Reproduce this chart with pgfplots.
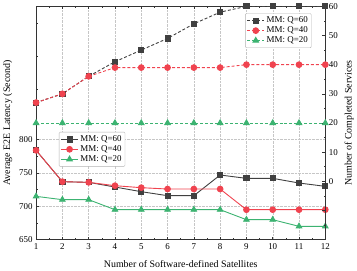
\documentclass[border=0pt]{standalone}
\usepackage{fontspec}
\setmainfont{Liberation Serif}
\usepackage{pgfplots}
\pgfplotsset{compat=1.18}
\definecolor{cblk}{HTML}{404040}
\definecolor{cred}{HTML}{F0434F}
\definecolor{cgrn}{HTML}{3CB371}
\begin{document}
\begin{tikzpicture}
\pgfplotsset{every axis/.append style={
  font=\fontsize{9}{10}\selectfont,
  /pgf/number format/assume math mode=true,
  tick align=inside, major tick length=3pt, minor tick length=1.6pt,
  scale only axis, width=290bp, height=234bp, xmin=1, xmax=12,
  axis line style={line width=0.8pt, black!80},
  tick style={black!80, line width=0.6pt},
  label style={font=\fontsize{10}{12}\selectfont},
  legend cell align=left,
  legend style={draw=gray!60, font=\fontsize{9}{10}\selectfont, inner sep=1.5pt, row sep=-1.5pt, rounded corners=1pt},
}}
\begin{axis}[
  xtick={1,...,12}, minor x tick num=1, xtick pos=both,
  ymin=650, ymax=1000, ytick={650,700,750,800},
  minor ytick={675,725,775,825,875,925,975}, ytick pos=left,
  grid=major, grid style={gray!45, densely dotted, line width=0.4pt},
  xlabel={Number of Software-defined Satellites},
  ylabel={Average E2E Latency (Second)},
  xlabel style={yshift=-4pt},
  legend style={at={(0.079,0.4615)}, anchor=north west},
]
\addplot[cblk, line width=0.9pt, mark=square*, mark size=2.6pt] coordinates {
(1,784)(2,737)(3,736)(4,729)(5,722)(6,716)(7,716)(8,747)(9,742)(10,742)(11,735)(12,730)};
\addlegendentry{MM: Q=60}
\addplot[cred, line width=0.9pt, mark=*, mark size=2.9pt] coordinates {
(1,784)(2,737)(3,736)(4,731)(5,728)(6,726)(7,726)(8,726)(9,695)(10,695)(11,695)(12,695)};
\addlegendentry{MM: Q=40}
\addplot[cgrn, line width=0.9pt, mark=triangle*, mark size=3.2pt] coordinates {
(1,715)(2,710)(3,710)(4,695)(5,695)(6,695)(7,695)(8,695)(9,680)(10,680)(11,670)(12,670)};
\addlegendentry{MM: Q=20}
\end{axis}
\begin{axis}[
  axis x line=none, axis y line*=right,
  ymin=-20, ymax=60, ytick={-20,-10,...,60},
  yticklabels={,,0,10,20,30,40,50,60},
  minor ytick={-15,-5,5,15,25,35,45,55},
  ylabel={Number of Completed Services},
  legend style={at={(0.952,0.970)}, anchor=north east},
]
\addplot[cblk, densely dashed, line width=0.9pt, mark=square*, mark size=2.6pt, mark options={solid}] coordinates {
(1,27)(2,30)(3,36)(4,41)(5,45)(6,49)(7,54)(8,58)(9,60)(10,60)(11,60)(12,60)};
\addlegendentry{MM: Q=60}
\addplot[cred, densely dashed, line width=0.9pt, mark=*, mark size=2.9pt, mark options={solid}] coordinates {
(1,27)(2,30)(3,36)(4,39)(5,39)(6,39)(7,39)(8,39)(9,40)(10,40)(11,40)(12,40)};
\addlegendentry{MM: Q=40}
\addplot[cgrn, densely dashed, line width=0.9pt, mark=triangle*, mark size=3.2pt, mark options={solid}] coordinates {
(1,20)(2,20)(3,20)(4,20)(5,20)(6,20)(7,20)(8,20)(9,20)(10,20)(11,20)(12,20)};
\addlegendentry{MM: Q=20}
\end{axis}
\end{tikzpicture}
\end{document}
